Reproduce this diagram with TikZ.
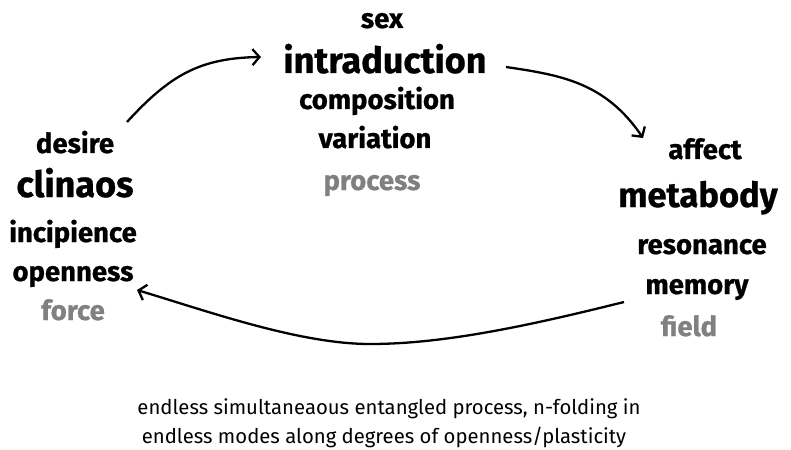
\documentclass[tikz,border=0pt]{standalone}
\usepackage{fontspec}
\setmainfont{Fira Sans}[BoldFeatures={FakeBold=0.8}]
\usetikzlibrary{arrows.meta}
\definecolor{faded}{HTML}{808080}
\begin{document}
\begin{tikzpicture}[x=1pt,y=-1pt,
  word/.style={anchor=base,inner sep=0pt,font=\fontsize{27.5}{30}\selectfont\bfseries},
  bigword/.style={word,font=\fontsize{36}{38}\selectfont\bfseries},
  grayword/.style={word,text=faded},
  note/.style={anchor=base,inner sep=0pt,font=\fontsize{20.3}{22}\selectfont},
  flow/.style={line width=2.3pt,-{Straight Barb[length=7pt,width=16pt,line width=2.3pt]}}]
\useasboundingbox (0,0) rectangle (791,449);
% top group
\node[word] (sex) at (382,28) {sex};
\node[bigword] (intra) at (385,73) {intraduction};
\node[word] (comp) at (377,109) {composition};
\node[word] (vari) at (375,148) {variation};
\node[grayword] (proc) at (372,190) {process};
% left group
\node[word] (desire) at (75,153) {desire};
\node[bigword] (clin) at (75,197) {clinaos};
\node[word] (incip) at (73,242) {incipience};
\node[word] (open) at (73,281) {openness};
\node[grayword] (force) at (73,320) {force};
% right group
\node[word] (affect) at (705,159) {affect};
\node[bigword,font=\fontsize{34.5}{36}\selectfont\bfseries] (meta) at (698,207) {metabody};
\node[word] (reso) at (702,254) {resonance};
\node[word] (memo) at (697,294) {memory};
\node[grayword] (field) at (689,336) {field};
% caption
\node[note] (cap1) at (389,414) {endless simultaneaous entangled process, n-folding in};
\node[note] (cap2) at (384,443) {endless modes along degrees of openness/plasticity};
% arrow end points
\coordinate (a1) at (127,122);
\coordinate (a2) at (261,57);
\coordinate (b1) at (506,67);
\coordinate (b2) at (643,138);
\coordinate (c1) at (624,302);
\coordinate (cm) at (370,344);
\coordinate (c2) at (137,290);
\draw[flow] (a1) .. controls (170,75) and (200,58) .. (a2);
\draw[flow] (b1) .. controls (560,75) and (605,82) .. (b2);
\draw[flow] (c1) .. controls (520,328) and (440,344) .. (cm)
  .. controls (300,344) and (210,312) .. (c2);
\end{tikzpicture}
\end{document}
